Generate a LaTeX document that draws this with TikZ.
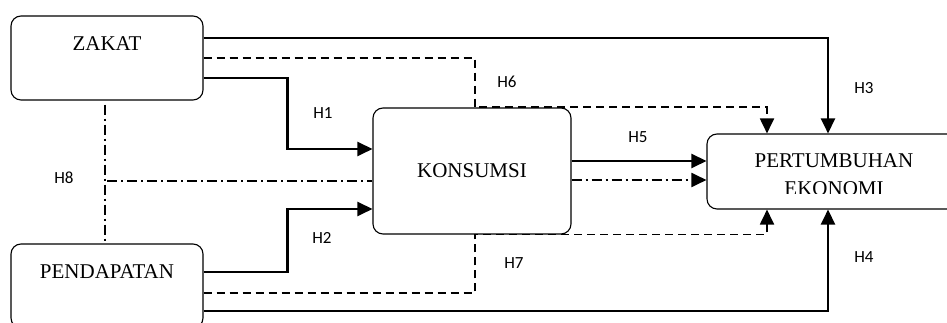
\documentclass[tikz,border=0pt]{standalone}
\usepackage{fontspec}
\setmainfont{Liberation Serif}
\newfontfamily\hypfont{Carlito}
\usetikzlibrary{arrows.meta}

\begin{document}
\begin{tikzpicture}[
  x=1pt, y=1pt,
  var/.style={rectangle, draw, rounded corners=10pt, line width=1.1pt, align=center, font=\fontsize{21}{28}\selectfont},
  tip/.style={-{Triangle[length=15pt,width=14pt]}},
  link/.style={tip, line width=2.4pt},
  dlink/.style={line width=1.9pt, dash pattern=on 8pt off 5pt},
  ddlink/.style={line width=1.9pt, dash pattern=on 10pt off 4pt on 2pt off 4pt},
  hyp/.style={font=\hypfont\fontsize{17}{20}\selectfont}
]
\useasboundingbox (0,0) rectangle (947,323);
\clip (0,0) rectangle (947,323);

\node[var, minimum width=192pt, minimum height=84pt] (zakat) at (107,265) {ZAKAT\\~};
\node[var, minimum width=192pt, minimum height=84pt] (pendapatan) at (107,37) {PENDAPATAN\\~};
\node[var, minimum width=198pt, minimum height=126pt] (konsumsi) at (472,152) {KONSUMSI};
\node[var, minimum width=262pt, minimum height=75pt] (ekonomi) at (838,151.5) {};
% text box cuts off the last line
\begin{scope}
  \clip ([yshift=-22pt]ekonomi.west) rectangle (ekonomi.north east);
  \node[var, draw=none] (ekonomitext) at ([xshift=-4pt,yshift=-3pt]ekonomi.center) {PERTUMBUHAN\\EKONOMI};
\end{scope}

\draw[link] ([yshift=20pt]zakat.east) -| ([xshift=-10pt]ekonomi.north);
\draw[dlink, tip] (zakat.east) -| ([xshift=3pt]konsumsi.north) -| ([xshift=-71pt]ekonomi.north);
\draw[link] ([yshift=-20pt]zakat.east) -- ++(84pt,0) |- ([yshift=22pt]konsumsi.west);
\draw[link] ([yshift=14pt]pendapatan.east) -- ++(84pt,0) |- ([yshift=-38pt]konsumsi.west);
\draw[dlink, tip] ([yshift=-7pt]pendapatan.east) -| ([xshift=3pt]konsumsi.south) -| ([xshift=-71pt]ekonomi.south);
\draw[link] ([yshift=-25pt]pendapatan.east) -| ([xshift=-10pt]ekonomi.south);
\draw[link] ([yshift=10pt]konsumsi.east) -- ([yshift=10pt]konsumsi.east -| ekonomi.west);
\draw[ddlink] ([xshift=-2pt,yshift=-4pt]zakat.south) -- ([xshift=-2pt]pendapatan.north);
\draw[ddlink] ([yshift=-10pt]konsumsi.west -| pendapatan.north) -- ([yshift=-10pt]konsumsi.west);
\draw[ddlink, tip] ([yshift=-9pt]konsumsi.east) -- ([yshift=-9pt]konsumsi.east -| ekonomi.west);

\node[hyp] (h1) at (323,210) {H1};
\node[hyp] (h2) at (322,85) {H2};
\node[hyp] (h3) at (864,235) {H3};
\node[hyp] (h4) at (864,66) {H4};
\node[hyp] (h5) at (638,186) {H5};
\node[hyp] (h6) at (507,241) {H6};
\node[hyp] (h7) at (514,60) {H7};
\node[hyp] (h8) at (64,145) {H8};
\end{tikzpicture}
\end{document}
